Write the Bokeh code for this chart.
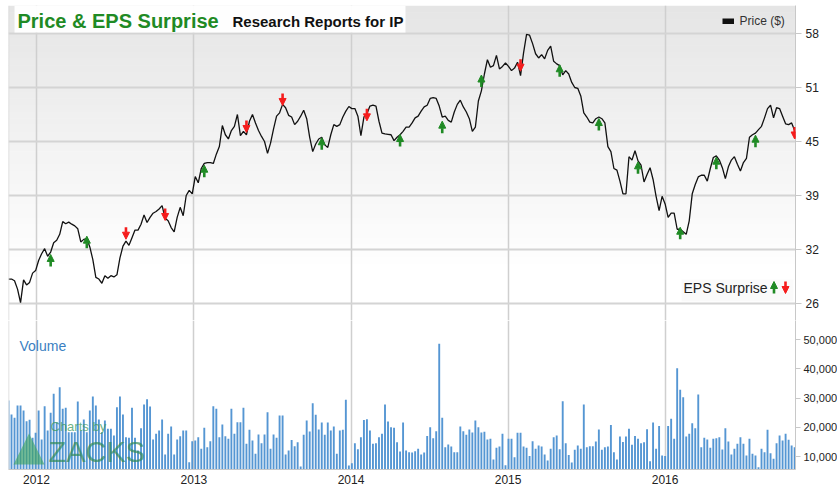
import pandas as pd
from bokeh.plotting import figure
from bokeh.layouts import column
from bokeh.models import (Range1d, FixedTicker, Span, Label, BoxAnnotation, PolyAnnotation,
                          Arrow, NormalHead, ColumnDataSource,
                          NumeralTickFormatter, DatetimeTickFormatter)
from bokeh.embed import file_html
from bokeh.resources import INLINE

# ---------------- data (weekly) ----------------
start_date = "2011-10-28"

price = [
    28.7, 28.7, 28.5, 27.5, 25.9, 28.6, 28.0, 28.3, 29.4, 29.7,
    30.9, 31.7, 32.3, 31.4, 31.9, 33.0, 33.3, 34.0, 35.5, 35.25,
    35.44, 35.2, 35.0, 34.65, 33.1, 33.4, 33.5, 32.5, 31.0, 28.9,
    28.7, 28.2, 29.1, 28.8, 29.1, 28.95, 29.2, 31.2, 32.6, 33.2,
    32.7, 33.6, 34.5, 34.5, 35.2, 36.3, 35.4, 36.0, 36.5, 36.7,
    37.0, 37.4, 35.9, 35.6, 34.8, 34.3, 36.0, 37.2, 36.2, 38.6,
    39.2, 38.8, 40.85, 40.1, 41.8, 42.4, 42.5, 42.5, 42.4, 43.5,
    44.4, 46.9, 45.8, 45.3, 46.3, 46.8, 48.2, 45.7, 46.2, 45.8,
    47.4, 48.2, 47.2, 46.3, 45.6, 45.0, 43.6, 44.8, 46.5, 48.0,
    48.4, 49.4, 49.0, 48.1, 47.9, 47.0, 47.4, 48.0, 48.7, 47.7,
    45.5, 43.8, 44.7, 45.3, 45.5, 44.6, 44.3, 45.8, 47.0, 46.8,
    47.0, 47.9, 48.6, 49.15, 48.9, 48.9, 48.0, 45.7, 47.9, 48.3,
    49.2, 49.3, 49.2, 47.4, 46.0, 45.9, 45.85, 45.8, 45.1, 45.5,
    45.8, 46.2, 46.7, 46.7, 47.2, 47.8, 48.0, 48.6, 49.1, 49.3,
    50.1, 50.2, 50.1, 49.2, 47.9, 48.0, 47.5, 47.3, 48.5, 49.4,
    49.9, 49.1, 48.5, 47.7, 46.2, 46.7, 49.8, 51.0, 53.0, 54.7,
    53.8, 54.0, 55.2, 53.6, 53.9, 54.3, 53.9, 53.4, 53.7, 54.4,
    52.8, 55.5, 57.7, 57.6, 56.6, 55.4, 54.9, 55.3, 54.8, 55.8,
    56.3, 54.5, 54.2, 54.0, 52.9, 53.4, 53.0, 52.0, 51.4, 51.3,
    50.4, 48.4, 47.9, 47.3, 47.2, 47.7, 47.9, 47.7, 47.2, 44.4,
    43.8, 41.8, 41.6, 40.3, 38.8, 38.8, 43.2, 42.8, 43.9, 42.7,
    42.2, 40.2, 41.1, 41.9, 40.5, 38.5, 36.8, 38.5, 37.6, 36.0,
    36.5, 36.5, 34.6, 34.6, 34.3, 34.0, 35.6, 38.8, 39.9, 40.8,
    41.0, 41.0, 40.3, 41.8, 43.1, 43.3, 42.8, 41.9, 40.6, 42.0,
    42.8, 43.2, 42.3, 41.5, 42.5, 43.0, 45.5, 45.8, 46.0, 46.4,
    46.8, 47.8, 48.9, 49.3, 47.8, 49.0, 48.9, 48.0, 47.1, 47.0,
    47.2, 46.3,
]

volume = [
    29140, 24350, 23210, 27430, 27430, 25720, 22070, 22530, 16370, 18080,
    25720, 15800, 27200, 18880, 24920, 31420, 21730, 33700, 26290, 26630,
    18310, 18310, 18310, 28800, 18880, 22640, 18310, 25720, 30510, 27430,
    22640, 18310, 22300, 19450, 19450, 17170, 26860, 30510, 24350, 16600,
    16370, 26630, 16370, 12040, 19680, 27770, 29600, 27090, 15800, 17740,
    18880, 22640, 10670, 17740, 20250, 10670, 15800, 16940, 18880, 18880,
    8050, 15230, 15460, 16600, 12610, 19790, 13180, 15230, 27200, 26290,
    16600, 20930, 16940, 16030, 26290, 17740, 21730, 21730, 26630, 14320,
    19110, 15460, 10900, 17510, 14550, 17510, 25150, 12610, 17510, 16370,
    24010,
    24010, 10670, 12040, 15680, 13520, 14890, 6560, 17400, 22300, 18530,
    28220, 24240, 19220, 21610, 17400, 21610, 18880, 20250, 10900, 18880,
    19110, 29360, 6900, 7710, 14550, 12490, 16600, 22520, 22750, 18880,
    14320, 14550, 16600, 17740, 27770, 21950, 20020, 19790, 14890, 11700,
    21610, 12040, 11470, 11350, 11810, 12610, 10670, 11350, 17050, 20020,
    16260, 18650, 48520, 23210, 13180, 14090, 13400, 11470, 11470, 20250,
    18650, 17400, 19220, 18190, 22300, 20020, 18190, 18420, 15800, 16030,
    8960, 12950, 13400, 17740, 7020, 16030, 16030, 9760, 18080,
    18080, 13400, 12950, 10210, 15230, 12610, 13750, 13400, 10670, 8620,
    12610, 16600, 17170, 12490, 28910, 14550, 10550, 7930, 12270, 13750,
    12610, 27770, 13180, 13520, 13520, 15110, 19220, 12270, 13180, 13400,
    20810, 11470, 8960, 16830, 15000, 16830, 19450, 13980, 17050, 16030,
    14550, 14890, 19330, 8390, 21610, 12610, 20470, 10330, 10210, 20470,
    22870, 16030, 40200, 32780, 30280, 16830, 17740, 21380, 19670, 31190,
    13180, 16370, 15800, 12950, 16030, 16260, 16600, 12380, 19670, 15110,
    10670, 12610, 14320,
    16600, 14320, 10330, 16030, 10900, 10330, 6340, 12610, 11470, 19110,
    11130, 9190, 14550, 17170, 15460, 17740, 15690, 13750, 13180,
]

# EPS surprise flags: week index, level of the flag, beat (True = up / green)
eps_week = [14, 26, 39, 52, 65, 79, 91, 104, 119, 130, 144, 157, 170, 183, 196, 209, 223, 235, 248, 261]
eps_level = [30.9, 33.07, 34.13, 36.35, 41.48, 46.78, 49.98, 44.73, 48.16, 45.12,
             46.7, 52.17, 54.05, 53.38, 47.01, 41.88, 34.13, 42.43, 45.04, 46.01]
eps_beat = [True, True, False, False, True, False, False, True, False, True,
            True, True, False, True, True, True, True, True, True, False]

year_labels = ["2012", "2013", "2014", "2015", "2016"]
price_ticks = [25.8, 32.2, 38.6, 45.0, 51.4, 57.8]
price_tick_labels = ["26", "32", "39", "45", "51", "58"]
volume_ticks = [10000, 20000, 30000, 40000, 50000]

# ---------------- layout helpers (page pixel -> data) ----------------
FONT = "Liberation Sans"
GREEN = "#1f8a24"
RED = "#f51c1c"
DAY = 86400000.0

dates = pd.date_range(start_date, periods=len(price), freq="7D")
xs = [d.value / 1e6 for d in dates]
year_ms = [pd.Timestamp(f"{y}-01-01").value / 1e6 for y in year_labels]

X0 = pd.Timestamp("2011-10-28").value / 1e6
X1 = pd.Timestamp("2016-10-30").value / 1e6
FL, FR = 8, 795          # frame left / right on the page
PT, PB = 5, 320          # price frame top / bottom
VT, VB = 320, 469        # volume frame top / bottom
PY0, PY1 = 23.785, 61.1185
VY0, VY1 = 5556, 56496
P_H, V_H = PB - PT, VB - VT


def X(px):
    return X0 + (px - FL) / (FR - FL) * (X1 - X0)


def P(py):
    return PY1 - (py - PT) / P_H * (PY1 - PY0)


def V(py):
    return VY1 - (py - VT) / V_H * (VY1 - VY0)


ppu = P_H / (PY1 - PY0)
xr = Range1d(X0, X1)

# ---------------- price panel ----------------
p = figure(frame_width=FR - FL, frame_height=P_H, x_axis_type="datetime", x_range=xr,
           y_range=Range1d(PY0, PY1), x_axis_location=None, y_axis_location="right",
           toolbar_location=None, output_backend="svg",
           min_border_left=FL, min_border_right=42, min_border_top=PT, min_border_bottom=0,
           background_fill_color="white", border_fill_color="white", outline_line_color=None)

# background gradient (grey at top fading to white)
N = 40
for k in range(N):
    ya = PT + (270 - PT) * k / N
    yb = PT + (270 - PT) * (k + 1) / N + 0.6
    c = int(round(229 + (255 - 229) * (k + 0.5) / N))
    p.add_layout(BoxAnnotation(top=P(ya), bottom=P(yb), fill_color=f"#{c:02x}{c:02x}{c:02x}",
                               fill_alpha=1, line_color=None, level="image"))

p.xgrid.ticker = FixedTicker(ticks=year_ms)
p.xgrid.grid_line_color = "#cfcfcf"
p.xgrid.grid_line_width = 1.5
p.ygrid.ticker = FixedTicker(ticks=price_ticks)
p.ygrid.grid_line_color = "#d4d4d4"
p.ygrid.grid_line_width = 2

ya = p.yaxis[0]
ya.ticker = FixedTicker(ticks=price_ticks)
ya.major_label_overrides = dict(zip(price_ticks, price_tick_labels))
ya.axis_line_color = "#c8c8c8"
ya.major_tick_line_color = "#c8c8c8"
ya.major_tick_out = 6
ya.major_tick_in = 0
ya.minor_tick_line_color = None
ya.major_label_standoff = 4
ya.major_label_text_font = FONT
ya.major_label_text_font_size = "12px"
ya.major_label_text_color = "#222222"

p.add_layout(Span(location=X0, dimension="height", line_color="#d8d8d8", line_width=1.5))

p.line(xs, price, line_color="#111111", line_width=1.3)

# EPS surprise arrows
up_x, up_y0, up_y1, dn_x, dn_y0, dn_y1 = [], [], [], [], [], []
for w, lvl, beat in zip(eps_week, eps_level, eps_beat):
    if beat:
        up_x.append(xs[w]); up_y0.append(lvl - 6 / ppu); up_y1.append(lvl + 6 / ppu)
    else:
        dn_x.append(xs[w]); dn_y0.append(lvl + 6 / ppu); dn_y1.append(lvl - 6 / ppu)
for cx, cy0, cy1, col in ((up_x, up_y0, up_y1, GREEN), (dn_x, dn_y0, dn_y1, RED)):
    src = ColumnDataSource(dict(x=cx, y0=cy0, y1=cy1))
    p.add_layout(Arrow(end=NormalHead(size=7, fill_color=col, line_color=col, line_width=1),
                       x_start="x", y_start="y0", x_end="x", y_end="y1", source=src,
                       line_color=col, line_width=2.6))

# legend "Price ($)"
p.add_layout(BoxAnnotation(left=X(722), right=X(733.5), top=P(18), bottom=P(23.5),
                           fill_color="#111111", fill_alpha=1, line_color=None))
p.add_layout(Label(x=X(739), y=P(20.5), text="Price ($)", text_font=FONT,
                   text_font_size="12px", text_color="#333333", text_baseline="middle"))

# title box
p.add_layout(BoxAnnotation(left=X(14), right=X(405), top=P(PT), bottom=P(32),
                           fill_color="white", fill_alpha=0.95, line_color=None))
p.add_layout(Label(x=X(17), y=P(20), text="Price & EPS Surprise", text_font=FONT,
                   text_font_size="20px", text_font_style="bold", text_color=GREEN,
                   text_baseline="middle"))
p.add_layout(Label(x=X(232), y=P(20.5), text="Research Reports for IP", text_font=FONT,
                   text_font_size="15px", text_font_style="bold", text_color="#111111",
                   text_baseline="middle"))

# EPS Surprise key
p.add_layout(BoxAnnotation(left=X(681), right=X(793), top=P(279), bottom=P(301),
                           fill_color="#fafafa", fill_alpha=0.9, line_color=None))
p.add_layout(Label(x=X(683), y=P(287.5), text="EPS Surprise", text_font=FONT,
                   text_font_size="14px", text_color="#222222", text_baseline="middle"))
p.add_layout(Arrow(end=NormalHead(size=7, fill_color=GREEN, line_color=GREEN, line_width=1),
                   x_start=X(773.5), y_start=P(293), x_end=X(773.5), y_end=P(281),
                   line_color=GREEN, line_width=2.6))
p.add_layout(Arrow(end=NormalHead(size=7, fill_color=RED, line_color=RED, line_width=1),
                   x_start=X(785), y_start=P(281), x_end=X(785), y_end=P(293),
                   line_color=RED, line_width=2.6))

# ---------------- volume panel ----------------
v = figure(frame_width=FR - FL, frame_height=V_H, x_axis_type="datetime", x_range=xr,
           y_range=Range1d(VY0, VY1), y_axis_location="right",
           toolbar_location=None, output_backend="svg",
           min_border_left=FL, min_border_right=42, min_border_top=0, min_border_bottom=19,
           background_fill_color="white", border_fill_color="white", outline_line_color=None)

v.ygrid.visible = False
v.xgrid.ticker = FixedTicker(ticks=year_ms)
v.xgrid.grid_line_color = "#cfcfcf"
v.xgrid.grid_line_width = 1.5

xa = v.xaxis[0]
xa.ticker = FixedTicker(ticks=year_ms)
xa.formatter = DatetimeTickFormatter(years="%Y", months="%Y", days="%Y", hours="%Y")
xa.major_tick_out = 0
xa.major_tick_in = 0
xa.minor_tick_line_color = None
xa.axis_line_color = "#c8c8c8"
xa.major_label_standoff = 5
xa.major_label_text_font = FONT
xa.major_label_text_font_size = "12px"
xa.major_label_text_color = "#222222"

vy = v.yaxis[0]
vy.ticker = FixedTicker(ticks=volume_ticks)
vy.formatter = NumeralTickFormatter(format="0,0")
vy.axis_line_color = "#c8c8c8"
vy.major_tick_line_color = "#c8c8c8"
vy.major_tick_out = 5
vy.major_tick_in = 0
vy.minor_tick_line_color = None
vy.major_label_standoff = 3
vy.major_label_text_font = FONT
vy.major_label_text_font_size = "11px"
vy.major_label_text_color = "#222222"

v.add_layout(Span(location=X0, dimension="height", line_color="#d8d8d8", line_width=1.5))

v.vbar(x=xs, top=volume, bottom=0, width=4.4 * DAY, fill_color="#5596d3", line_color=None)

v.add_layout(Label(x=X(19), y=V(345), text="Volume", text_font=FONT, text_font_size="14px",
                   text_color="#3a7fc2", text_baseline="middle"))

# watermark
v.add_layout(PolyAnnotation(xs=[X(13), X(44), X(28.5)], ys=[V(464), V(464), V(433)],
                            fill_color="#3aa35a", fill_alpha=0.6, line_color=None))
v.add_layout(Label(x=X(50), y=V(426), text="Charts by", text_font=FONT, text_font_size="13px",
                   text_color="#3c9a5c", text_alpha=0.75, text_baseline="middle"))
v.add_layout(Label(x=X(48), y=V(451), text="ZACKS", text_font=FONT, text_font_size="29px",
                   text_color="#2f8a55", text_alpha=0.7, text_baseline="middle"))

layout = column(p, v, spacing=0)
open("out.html", "w").write(file_html(layout, INLINE, title="Price & EPS Surprise"))
